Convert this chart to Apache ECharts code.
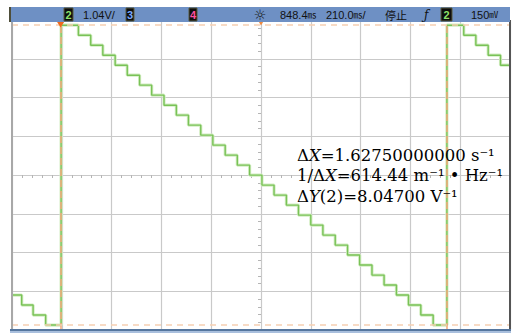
<!DOCTYPE html>
<html>
<head>
<meta charset="utf-8">
<script src="https://cdn.jsdelivr.net/npm/echarts@6/dist/echarts.min.js"></script>
<style>
  html, body { margin: 0; padding: 0; background: #fff; }
  #scope { width: 518px; height: 333px; }
</style>
</head>
<body>
<div id="scope"></div>
<script>
// channel 2 staircase, one value per step in mV (level 0 = top of ramp)
const levelsMv = [4020, 3752, 3484, 3215, 2947, 2679, 2411, 2143, 1874, 1606,
  1338, 1070, 801, 533, 265, -3, -271, -540, -808, -1076,
  -1344, -1613, -1881, -2149, -2417, -2686, -2954, -3222, -3490, -3759, -4027];

// time axis in ms relative to screen centre (210 ms/div, 10 div)
const tailStartMs = [-1050, -1009, -961, -908];   // end of previous ramp
const tailLevels = [27, 28, 29, 30];
const ramp1RiseMs = -843;
const ramp1StepMs = [-770, -718, -667, -615, -564, -512, -461, -409, -357, -306,
  -254, -203, -151, -100, -48, 4, 55, 107, 158, 210,
  261, 313, 365, 416, 468, 519, 571, 622, 674, 726];
const ramp2RiseMs = 784;
const ramp2StepMs = [855, 906, 958, 1010];
const screenEndMs = 1050;

// cursors
const cursorXMs = [-845, 782.5];
const cursorYMv = [4020, -4027];
const triggerMs = 0;

// axis ranges
const xMinMs = -1050, xMaxMs = 1050, xDivMs = 210;
const yMinMv = -4160, yMaxMv = 4160, yDivMv = 1040;

const readouts = [
  'Δ{i|X}=1.62750000000 s⁻¹',
  '1/Δ{i|X}=614.44 m⁻¹ • Hz⁻¹',
  'Δ{i|Y}(2)=8.04700 V⁻¹'
];

const points = [];
tailStartMs.forEach((t, i) => points.push([t, levelsMv[tailLevels[i]]]));
points.push([ramp1RiseMs, levelsMv[0]]);
ramp1StepMs.forEach((t, i) => points.push([t, levelsMv[i + 1]]));
points.push([ramp2RiseMs, levelsMv[0]]);
ramp2StepMs.forEach((t, i) => points.push([t, levelsMv[i + 1]]));
points.push([screenEndMs, levelsMv[ramp2StepMs.length]]);

const gridColor = '#c9c9c9';
const barFont = '11px "Liberation Sans", Arial, sans-serif';

function barText(x, text, extra) {
  return {
    type: 'text', x: x, y: 14.5, z: 20,
    style: Object.assign({
      text: text, fill: '#111', font: barFont, verticalAlign: 'middle',
      rich: { u: { fontSize: 9, fontFamily: 'Noto Sans CJK SC', fill: '#111' } }
    }, extra || {})
  };
}
function chanBox(x, w, label, color) {
  return [
    { type: 'rect', z: 20, shape: { x: x, y: 8, width: w, height: 13 },
      style: { fill: '#0d0d0d', stroke: '#5b5b3c', lineWidth: 1 } },
    { type: 'text', z: 21, x: x + w / 2, y: 14.5,
      style: { text: label, fill: color, font: 'bold 11px "Liberation Sans", sans-serif',
        align: 'center', verticalAlign: 'middle' } }
  ];
}

const chart = echarts.init(document.getElementById('scope'), null, { renderer: 'svg' });

const cursorMarks = cursorXMs.map(v => ({
  xAxis: v, lineStyle: { color: '#f3a97c', type: [7, 4], width: 1.5 }
})).concat(cursorYMv.map(v => ({
  yAxis: v, lineStyle: { color: '#f6cfb3', type: [6, 5], width: 1.5 }
})));

chart.setOption({
  animation: false,
  backgroundColor: '#ffffff',
  grid: { left: 12, right: 8, top: 20, bottom: 3 },
  xAxis: {
    type: 'value', min: xMinMs, max: xMaxMs, interval: xDivMs,
    axisLabel: { show: false },
    axisLine: { onZero: true, lineStyle: { color: gridColor, width: 1 } },
    axisTick: { show: false },
    minorTick: { show: true, splitNumber: 5, length: 3, lineStyle: { color: '#b5b5b5' } },
    splitLine: { show: true, lineStyle: { color: gridColor, width: 1.2 } }
  },
  yAxis: {
    type: 'value', min: yMinMv, max: yMaxMv, interval: yDivMv,
    axisLabel: { show: false },
    axisLine: { onZero: true, lineStyle: { color: gridColor, width: 1 } },
    axisTick: { show: false },
    minorTick: { show: true, splitNumber: 5, length: 3, lineStyle: { color: '#b5b5b5' } },
    splitLine: { show: true, lineStyle: { color: gridColor, width: 1.2 } }
  },
  series: [
    {
      type: 'line', data: [], silent: true, z: 1,
      markLine: { silent: true, symbol: ['none', 'none'], label: { show: false }, data: cursorMarks },
      markPoint: {
        silent: true, symbol: 'triangle', symbolRotate: 180, label: { show: false },
        data: [
          { coord: [cursorXMs[0], yMaxMv], symbolSize: [9, 7], symbolOffset: [0, 4],
            itemStyle: { color: '#ef6a1c' } },
          { coord: [triggerMs, yMaxMv], symbolSize: [6, 5], symbolOffset: [0, 3],
            itemStyle: { color: '#f08a40' } }
        ]
      }
    },
    {
      type: 'line', data: points, step: 'end', showSymbol: false, silent: true, z: 2,
      lineStyle: { color: '#d4eec4', width: 3.2 }
    },
    {
      type: 'line', data: points, step: 'end', showSymbol: false, silent: true, z: 3,
      lineStyle: { color: '#79c257', width: 1.4 }
    }
  ],
  graphic: [
    // frame
    { type: 'rect', z: 10, shape: { x: 11, y: 20, width: 2, height: 310 }, style: { fill: '#a8a8a8' } },
    { type: 'rect', z: 10, shape: { x: 509, y: 20, width: 2, height: 311 }, style: { fill: '#555' } },
    { type: 'rect', z: 10, shape: { x: 10, y: 329, width: 501, height: 2 }, style: { fill: '#56779f' } },
    { type: 'rect', z: 10, shape: { x: 10, y: 331, width: 501, height: 2 }, style: { fill: '#a9bfdd' } },
    // status bar
    { type: 'rect', z: 19, shape: { x: 10, y: 7, width: 500, height: 15 }, style: { fill: '#6e90c4' } },
    { type: 'rect', z: 19, shape: { x: 9, y: 7, width: 2, height: 15 }, style: { fill: '#4e4e3a' } },
    ...chanBox(64, 9, '2', '#8fe26a'),
    barText(83, '1.04V/'),
    ...chanBox(126, 8, '3', '#79a8ff'),
    ...chanBox(189, 8, '4', '#ff4f9e'),
    barText(260, '☼', { align: 'center', font: '14px "DejaVu Sans", sans-serif' }),
    barText(280, '848.4{u|㎳}'),
    barText(326, '210.0{u|㎳}/'),
    barText(385, '停止', { font: '11px "Noto Sans CJK SC", sans-serif' }),
    barText(424, 'ƒ', { font: 'italic 12px "DejaVu Serif", serif' }),
    ...chanBox(441, 11, '2', '#8fe26a'),
    barText(471, '150{u|㎷}'),
    // cursor readouts
    ...readouts.map((t, i) => ({
      type: 'text', z: 30, x: 297, y: 155 + i * 20.5,
      style: {
        text: t, fill: '#000', verticalAlign: 'middle',
        font: '16.5px "DejaVu Serif", serif',
        rich: { i: { fontStyle: 'italic', fontSize: 16.5, fontFamily: 'DejaVu Serif', fill: '#000' } }
      }
    }))
  ]
});
</script>
</body>
</html>
